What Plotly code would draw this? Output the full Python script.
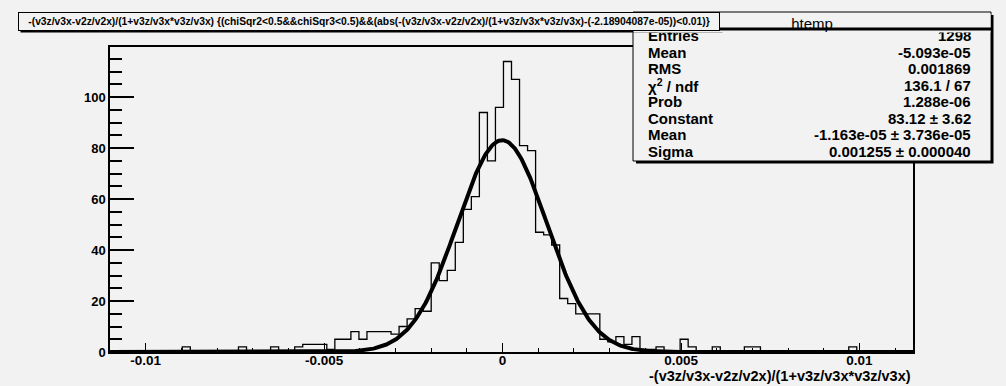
import numpy as np
import plotly.graph_objects as go

# ---------------- data ----------------
X_MIN = -0.011
X_MAX = 0.0115
N_BINS = 100
Y_MAX = 119.7

counts = [
    0, 0, 0, 0, 0, 0, 0, 0, 0, 2,
    0, 0, 0, 0, 0, 0, 2, 0, 0, 0,
    2, 0, 0, 2, 3, 3, 3, 1, 5, 5,
    8, 5, 8, 8, 8, 7, 10, 13, 17, 16,
    35, 28, 32, 43, 56, 61, 94, 75, 96, 114,
    107, 81, 79, 47, 46, 42, 21, 19, 15, 15,
    15, 5, 4, 6, 3, 6, 1, 1, 2, 0,
    0, 5, 2, 0, 0, 2, 0, 0, 0, 2,
    2, 0, 0, 0, 0, 0, 0, 0, 0, 0,
    0, 0, 2, 0, 0, 0, 0, 0, 0, 0,
]

fit_constant = 83.12
fit_mean = -1.163e-05
fit_sigma = 0.001255

x_tick_vals = [-0.01, -0.005, 0.0, 0.005, 0.01]
x_tick_text = ["-0.01", "-0.005", "0", "0.005", "0.01"]
y_tick_vals = [0, 20, 40, 60, 80, 100]
y_tick_text = ["0", "20", "40", "60", "80", "100"]

stat_title = "htemp"
stat_labels = ["Entries", "Mean", "RMS", "χ<sup>2</sup> / ndf", "Prob", "Constant", "Mean", "Sigma"]
stat_values = ["1298", "-5.093e-05", "0.001869", "136.1 / 67", "1.288e-06",
               "83.12 ± 3.62", "-1.163e-05 ± 3.736e-05", "0.001255 ± 0.000040"]

title_text = ("-(v3z/v3x-v2z/v2x)/(1+v3z/v3x*v3z/v3x) {(chiSqr2&lt;0.5&amp;&amp;chiSqr3&lt;0.5)"
              "&amp;&amp;(abs(-(v3z/v3x-v2z/v2x)/(1+v3z/v3x*v3z/v3x)-(-2.18904087e-05))&lt;0.01)}")
x_title = "-(v3z/v3x-v2z/v2x)/(1+v3z/v3x*v3z/v3x)"

# ---------------- layout geometry ----------------
W, H = 1006, 386
L, R, T, B = 110, 913, 47, 352
BG = "#f2f2f2"
FONT = "Liberation Sans"


def px(x):
    return (x - L) / (R - L)


def py(y):
    return (B - y) / (B - T)


bin_w = (X_MAX - X_MIN) / N_BINS
edges = X_MIN + bin_w * np.arange(N_BINS + 1)
step_y = list(counts) + [counts[-1]]

xf = np.linspace(X_MIN, X_MAX, 800)
yf = fit_constant * np.exp(-0.5 * ((xf - fit_mean) / fit_sigma) ** 2)

fig = go.Figure()
fig.add_trace(go.Scatter(x=edges, y=step_y, mode="lines", line=dict(shape="hv", color="black", width=1.3),
                         hoverinfo="skip", showlegend=False))
fig.add_trace(go.Scatter(x=xf, y=yf, mode="lines", line=dict(color="black", width=4),
                         hoverinfo="skip", showlegend=False))

tickfont = dict(family=FONT, size=13, color="black", weight="bold")
fig.update_layout(
    width=W, height=H,
    margin=dict(l=L, r=W - R, t=T, b=H - B, pad=0),
    paper_bgcolor=BG, plot_bgcolor=BG,
    showlegend=False,
    xaxis=dict(range=[X_MIN, X_MAX], tickvals=x_tick_vals, ticktext=x_tick_text,
               ticks="inside", ticklen=9, tickwidth=1, tickcolor="black", ticklabelstandoff=-5,
               minor=dict(dtick=0.001, tick0=0, ticks="inside", ticklen=4.5, tickcolor="black", tickwidth=1),
               showgrid=False, zeroline=False, showline=True, linecolor="black", linewidth=1.5, mirror=True,
               tickfont=dict(family=FONT, size=13.5, color="black", weight="bold")),
    yaxis=dict(range=[0, Y_MAX], tickvals=y_tick_vals, ticktext=y_tick_text,
               ticks="inside", ticklen=24, tickwidth=1.5, tickcolor="black",
               minor=dict(dtick=5, tick0=0, ticks="inside", ticklen=12, tickcolor="black", tickwidth=1.5),
               showgrid=False, zeroline=False, showline=True, linecolor="black", linewidth=1.5, mirror=True,
               tickfont=tickfont),
)

shapes = []
# stats box shadow + box
shapes.append(dict(type="rect", xref="paper", yref="paper", layer="above",
                   x0=px(636), x1=px(993.5), y0=py(163.5), y1=py(15),
                   fillcolor="black", line=dict(width=0)))
shapes.append(dict(type="rect", xref="paper", yref="paper", layer="above",
                   x0=px(633), x1=px(991), y0=py(161), y1=py(12),
                   fillcolor=BG, line=dict(color="black", width=1)))
# title box shadow
shapes.append(dict(type="rect", xref="paper", yref="paper", layer="above",
                   x0=px(20.5), x1=px(722.5), y0=py(32.5), y1=py(14.5),
                   fillcolor="black", line=dict(width=0)))
fig.update_layout(shapes=shapes)

ann = []
statfont = dict(family=FONT, size=15, color="black", weight="bold")
for i, (lab, val) in enumerate(zip(stat_labels, stat_values)):
    yc = 35.5 + 16.5 * i
    ann.append(dict(xref="paper", yref="paper", x=px(646), y=py(yc), xanchor="left", yanchor="middle",
                    text=lab, showarrow=False, font=statfont))
    ann.append(dict(xref="paper", yref="paper", x=px(973), y=py(yc), xanchor="right", yanchor="middle",
                    text=val, showarrow=False, font=statfont))
# header of the stats box (drawn over the first row, as in the original)
ann.append(dict(xref="paper", yref="paper", x=px(812), y=py(12.5), xanchor="center", yanchor="top",
                text=stat_title, showarrow=False, width=356, height=18, bgcolor=BG, borderpad=0,
                font=dict(family=FONT, size=15, color="black")))
ann.append(dict(xref="paper", yref="paper", x=px(812), y=py(29.3), xanchor="center", yanchor="middle",
                text=" ", showarrow=False, width=357, height=1.5, bgcolor="black", borderpad=0,
                font=dict(family=FONT, size=1, color="black")))
ann.append(dict(xref="paper", yref="paper", x=px(18), y=py(12), xanchor="left", yanchor="top",
                text=title_text, showarrow=False, width=700, height=17, bgcolor=BG,
                bordercolor="black", borderwidth=1, borderpad=0, align="center",
                font=dict(family=FONT, size=10.3, color="black", weight="bold")))
ann.append(dict(xref="paper", yref="paper", x=1, y=py(376), xanchor="right", yanchor="middle",
                text=x_title, showarrow=False, font=dict(family=FONT, size=14.5, color="black", weight="bold")))
fig.update_layout(annotations=ann)

fig.write_html("out.html", config={"displayModeBar": False},
               post_script="document.body.style.margin='0px';")
